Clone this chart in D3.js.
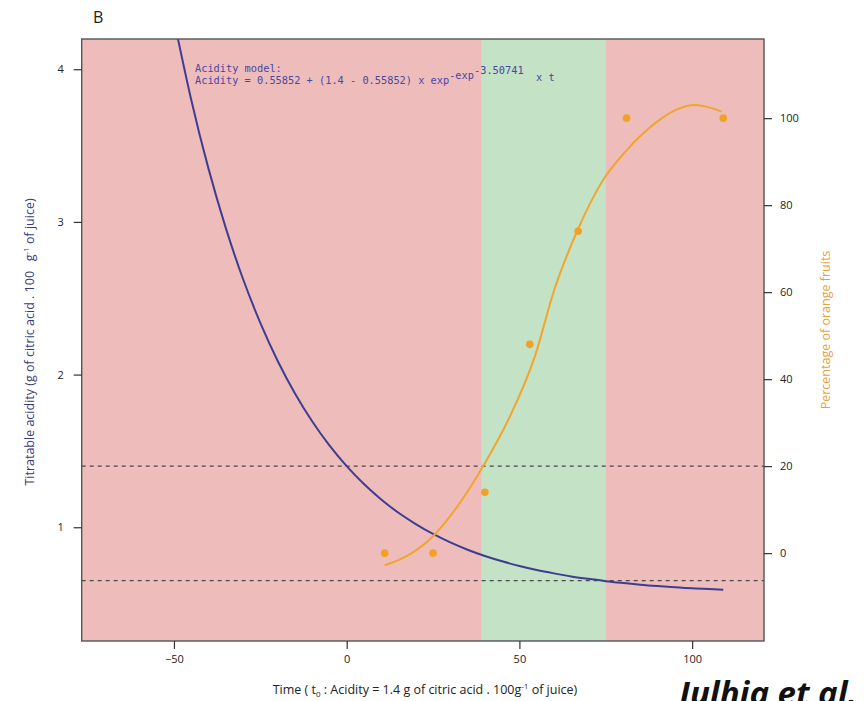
<!DOCTYPE html>
<html>
<head>
<meta charset="utf-8">
<script src="https://cdn.jsdelivr.net/npm/d3@7"></script>
<style>
  body { margin: 0; background: #fff; overflow: hidden; }
  svg { display: block; }
  .tick text { font-family: "Open Sans", "Liberation Sans", sans-serif; }
</style>
</head>
<body>
<div id="chart"></div>
<script>
// acidity model curve (time, acidity)
const acidTime = [-50, -45, -40, -35, -30, -25, -20, -15, -10, -5, 0, 5, 10, 15, 20, 25, 30, 35, 40, 45, 50, 55, 60, 65, 70, 75, 80, 85, 90, 95, 100, 105, 109];
const acidValue = [4.324, 3.800, 3.349, 2.961, 2.626, 2.339, 2.091, 1.878, 1.694, 1.536, 1.400, 1.283, 1.182, 1.095, 1.021, 0.956, 0.901, 0.853, 0.812, 0.777, 0.746, 0.720, 0.698, 0.678, 0.662, 0.647, 0.635, 0.624, 0.615, 0.607, 0.600, 0.595, 0.591];

// percentage of orange fruits, observed points
const obsTime = [11, 25, 40, 53, 67, 81, 109];
const obsPct = [0, 0, 14, 48, 74, 100, 100];

// smoothed fit through the orange points
const fitTime = [11, 18, 25, 32, 39.5, 47, 54.5, 60, 66.7, 74, 81, 89.7, 95, 101, 108.5];
const fitPct = [-2.8, -0.4, 3.9, 10.7, 20, 31, 45.3, 60.3, 74, 85.5, 92.6, 99.1, 101.8, 103, 101.5];

// green window and the two acidity thresholds
const windowRange = [39, 75];
const thresholds = [1.4, 0.65];

const xTicks = [-50, 0, 50, 100];
const yTicks = [1, 2, 3, 4];
const y2Ticks = [0, 20, 40, 60, 80, 100];

const width = 864, height = 701;
const plotLeft = 81.7, plotRight = 764, plotTop = 39, plotBottom = 641;

const svg = d3.select("#chart").append("svg")
    .attr("width", width)
    .attr("height", height);

const x = d3.scaleLinear().domain([-76.7, 120.8]).range([plotLeft, plotRight]);
const y = d3.scaleLinear().domain([0.255, 4.198]).range([plotBottom, plotTop]);
const y2 = d3.scaleLinear().domain([-20.2, 118.2]).range([plotBottom, plotTop]);

svg.append("defs").append("clipPath").attr("id", "plotClip")
    .append("rect")
    .attr("x", plotLeft).attr("y", plotTop)
    .attr("width", plotRight - plotLeft).attr("height", plotBottom - plotTop);

// backgrounds
svg.append("rect")
    .attr("x", plotLeft).attr("y", plotTop)
    .attr("width", plotRight - plotLeft).attr("height", plotBottom - plotTop)
    .attr("fill", "#efbcbc");

svg.append("rect")
    .attr("x", x(windowRange[0])).attr("y", plotTop)
    .attr("width", x(windowRange[1]) - x(windowRange[0]))
    .attr("height", plotBottom - plotTop)
    .attr("fill", "#c4e2c6");

const plot = svg.append("g").attr("clip-path", "url(#plotClip)");

plot.selectAll(".thr")
    .data(thresholds)
    .enter().append("line")
    .attr("class", "thr")
    .attr("x1", plotLeft).attr("x2", plotRight)
    .attr("y1", d => y(d)).attr("y2", d => y(d))
    .attr("stroke", "#4a4a4a")
    .attr("stroke-width", 1.3)
    .attr("stroke-dasharray", "4,4");

const acidLine = d3.line()
    .x((d, i) => x(acidTime[i]))
    .y(d => y(d))
    .curve(d3.curveNatural);

plot.append("path")
    .datum(acidValue)
    .attr("d", acidLine)
    .attr("fill", "none")
    .attr("stroke", "#3d3d92")
    .attr("stroke-width", 2);

const fitLine = d3.line()
    .x((d, i) => x(fitTime[i]))
    .y(d => y2(d))
    .curve(d3.curveMonotoneX);

plot.append("path")
    .datum(fitPct)
    .attr("d", fitLine)
    .attr("fill", "none")
    .attr("stroke", "#f2a52e")
    .attr("stroke-width", 2);

plot.selectAll(".obs")
    .data(obsPct)
    .enter().append("circle")
    .attr("class", "obs")
    .attr("cx", (d, i) => x(obsTime[i]))
    .attr("cy", d => y2(d))
    .attr("r", 3.8)
    .attr("fill", "#f0a126");

// frame
svg.append("rect")
    .attr("x", plotLeft).attr("y", plotTop)
    .attr("width", plotRight - plotLeft).attr("height", plotBottom - plotTop)
    .attr("fill", "none")
    .attr("stroke", "#555")
    .attr("stroke-width", 1.4);

// axes
function styleAxis(g) {
    g.select(".domain").remove();
    g.selectAll(".tick line").attr("stroke", "#333").attr("stroke-width", 1.2);
    g.selectAll(".tick text").attr("fill", "#222").style("font-size", "11px");
}

svg.append("g")
    .attr("transform", `translate(0,${plotBottom})`)
    .call(d3.axisBottom(x).tickValues(xTicks).tickSize(8).tickPadding(6)
        .tickFormat(d => d < 0 ? "\u2212" + Math.abs(d) : d))
    .call(styleAxis);

svg.append("g")
    .attr("transform", `translate(${plotLeft},0)`)
    .call(d3.axisLeft(y).tickValues(yTicks).tickSize(8).tickPadding(10).tickFormat(d3.format("d")))
    .call(styleAxis);

svg.append("g")
    .attr("transform", `translate(${plotRight},0)`)
    .call(d3.axisRight(y2).tickValues(y2Ticks).tickSize(8).tickPadding(8))
    .call(styleAxis);

// titles
const sans = "'Open Sans', 'Liberation Sans', sans-serif";

svg.append("text")
    .attr("x", 93).attr("y", 23)
    .attr("font-family", sans)
    .attr("font-size", 16)
    .attr("fill", "#222")
    .text("B");

const yTitle = svg.append("text")
    .attr("transform", "translate(34,342) rotate(-90)")
    .attr("text-anchor", "middle")
    .attr("font-family", sans)
    .attr("font-size", 12.5)
    .attr("fill", "#3b3b78")
    .attr("xml:space", "preserve");
yTitle.append("tspan").text("Titratable acidity (g of citric acid . 100   g");
yTitle.append("tspan").attr("dy", -5).attr("font-size", 8).text("-1");
yTitle.append("tspan").attr("dy", 5).text(" of juice)");

svg.append("text")
    .attr("transform", "translate(830,330) rotate(-90)")
    .attr("text-anchor", "middle")
    .attr("font-family", sans)
    .attr("font-size", 12.5)
    .attr("fill", "#e6a23c")
    .text("Percentage of orange fruits");

const xTitle = svg.append("text")
    .attr("x", 425).attr("y", 694)
    .attr("text-anchor", "middle")
    .attr("font-family", sans)
    .attr("font-size", 12.5)
    .attr("fill", "#222");
xTitle.append("tspan").text("Time ( t");
xTitle.append("tspan").attr("dy", 3).attr("font-size", 8).text("0");
xTitle.append("tspan").attr("dy", -3).text(" : Acidity = 1.4 g of citric acid . 100g");
xTitle.append("tspan").attr("dy", -5).attr("font-size", 8).text("-1");
xTitle.append("tspan").attr("dy", 5).text(" of juice)");

// model annotation
const mono = "'DejaVu Sans Mono', monospace";
const noteColor = "#4848a0";
svg.append("text")
    .attr("x", 195).attr("y", 72)
    .attr("font-family", mono).attr("font-size", 10.3)
    .attr("fill", noteColor)
    .text("Acidity model:");
const note = svg.append("text")
    .attr("x", 195).attr("y", 84)
    .attr("font-family", mono).attr("font-size", 10.3)
    .attr("fill", noteColor)
    .attr("xml:space", "preserve");
note.append("tspan").text("Acidity = 0.55852 + (1.4 - 0.55852) x exp");
note.append("tspan").attr("dy", -5).text("-exp");
note.append("tspan").attr("dy", -5).text("-3.50741");
note.append("tspan").attr("dy", 7).text("  x t");

// citation, cut by the page edge as in the source
svg.append("text")
    .attr("x", 679).attr("y", 705)
    .attr("font-family", sans)
    .attr("font-size", 33)
    .attr("font-weight", "bold")
    .attr("font-style", "italic")
    .attr("fill", "#111")
    .text("Julhia et al.,");
</script>
</body>
</html>
